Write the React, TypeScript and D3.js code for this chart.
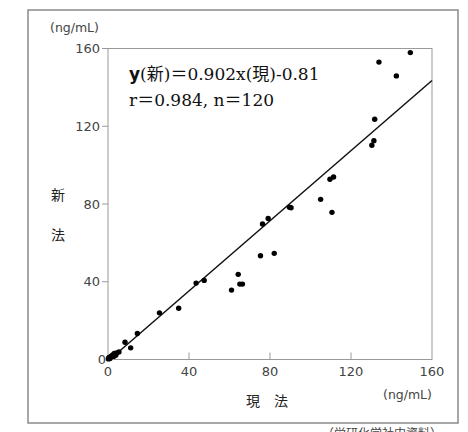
import { useEffect, useRef } from "react";
import * as d3 from "d3";

// 現法 (x) vs 新法 (y), ng/mL
const currentMethod = [
  149.3, 133.8, 142.4, 131.7, 131.3, 130.3, 109.6, 111.4, 105.0, 110.6,
  89.6, 90.4, 79.1, 76.3, 75.3, 82.1, 64.3, 65.1, 66.4, 61.0,
  47.5, 43.5, 34.9, 25.4, 14.5, 8.4, 11.2, 5.4, 4.3, 3.1,
  2.3, 1.5, 0.7, 0.2, 3.8, 2.8, 1.0, 0.4,
];
const newMethod = [
  157.9, 153.0, 145.9, 123.6, 112.6, 110.2, 92.7, 93.9, 82.4, 75.7,
  78.3, 78.1, 72.6, 69.7, 53.4, 54.6, 43.8, 38.8, 38.8, 35.7,
  40.7, 39.3, 26.4, 24.0, 13.4, 8.9, 6.0, 3.9, 3.4, 3.1,
  2.4, 1.7, 1.0, 0.3, 2.2, 1.6, 0.5, 0.9,
];
const ticks = [0, 40, 80, 120, 160];
const slope = 0.902;
const intercept = -0.81;

export default function App() {
  const ref = useRef<SVGSVGElement>(null);

  useEffect(() => {
    const svg = d3.select(ref.current);
    svg.selectAll("*").remove();

    const x = d3.scaleLinear().domain([0, 160]).range([108, 432]);
    const y = d3.scaleLinear().domain([0, 160]).range([359.5, 48.5]);
    const sans = "'DejaVu Sans', sans-serif";
    const cjk = "'Noto Sans CJK JP', sans-serif";
    const serif = "'DejaVu Serif', serif";

    // outer frame
    svg.append("rect")
      .attr("x", 28).attr("y", 10).attr("width", 430).attr("height", 413)
      .attr("fill", "none").attr("stroke", "#8a8a8a").attr("stroke-width", 1.5);

    // plot frame
    svg.append("rect")
      .attr("x", x(0)).attr("y", y(160))
      .attr("width", x(160) - x(0)).attr("height", y(0) - y(160))
      .attr("fill", "none").attr("stroke", "#999").attr("stroke-width", 1);

    // x ticks (inward)
    svg.selectAll(".xt").data(ticks.slice(1, 4)).enter().append("line")
      .attr("x1", d => x(d)).attr("x2", d => x(d))
      .attr("y1", y(0)).attr("y2", y(0) - 7)
      .attr("stroke", "#999");
    // y ticks (outward)
    svg.selectAll(".yt").data(ticks.slice(1)).enter().append("line")
      .attr("x1", x(0)).attr("x2", x(0) - 6)
      .attr("y1", d => y(d)).attr("y2", d => y(d))
      .attr("stroke", "#999");

    svg.selectAll(".xl").data(ticks).enter().append("text")
      .attr("x", d => x(d)).attr("y", y(0) + 16)
      .attr("text-anchor", "middle")
      .attr("font-family", sans).attr("font-size", 13).attr("fill", "#444")
      .text(d => d);
    svg.selectAll(".yl").data(ticks).enter().append("text")
      .attr("x", d => (d === 0 ? x(0) - 2 : x(0) - 8)).attr("y", d => y(d) + 4.5)
      .attr("text-anchor", "end")
      .attr("font-family", sans).attr("font-size", 13).attr("fill", "#444")
      .text(d => d);

    // units
    svg.append("text").attr("x", 50).attr("y", 32)
      .attr("font-family", sans).attr("font-size", 12.5).attr("fill", "#444")
      .text("(ng/mL)");
    svg.append("text").attr("x", 383).attr("y", 399)
      .attr("font-family", sans).attr("font-size", 12.5).attr("fill", "#444")
      .text("(ng/mL)");

    // axis titles
    svg.append("text").attr("x", 58).attr("y", 200)
      .attr("text-anchor", "middle")
      .attr("font-family", cjk).attr("font-size", 14).attr("fill", "#222")
      .text("新");
    svg.append("text").attr("x", 58).attr("y", 240)
      .attr("text-anchor", "middle")
      .attr("font-family", cjk).attr("font-size", 14).attr("fill", "#222")
      .text("法");
    svg.append("text").attr("x", 267).attr("y", 406)
      .attr("text-anchor", "middle")
      .attr("font-family", cjk).attr("font-size", 14).attr("fill", "#222")
      .text("現　法");

    // regression line
    const x0 = -intercept / slope;
    svg.append("line")
      .attr("x1", x(x0)).attr("y1", y(0))
      .attr("x2", x(160)).attr("y2", y(slope * 160 + intercept))
      .attr("stroke", "#111").attr("stroke-width", 1.5);

    // points
    svg.selectAll(".dot").data(currentMethod).enter().append("circle")
      .attr("cx", d => x(d))
      .attr("cy", (d, i) => y(newMethod[i]))
      .attr("r", 2.7)
      .attr("fill", "#000");

    // equation
    const eq = svg.append("text").attr("x", 129).attr("y", 80)
      .attr("font-family", serif).attr("font-size", 17).attr("fill", "#111");
    eq.append("tspan").attr("font-family", sans).attr("font-weight", "bold").text("y");
    eq.append("tspan").text("(");
    eq.append("tspan").attr("font-family", cjk).text("新");
    eq.append("tspan").text(")");
    eq.append("tspan").attr("font-family", cjk).text("＝");
    eq.append("tspan").text("0.902x(");
    eq.append("tspan").attr("font-family", cjk).text("現");
    eq.append("tspan").text(")-0.81");
    const eq2 = svg.append("text").attr("x", 129).attr("y", 106)
      .attr("font-family", serif).attr("font-size", 17).attr("fill", "#111");
    eq2.append("tspan").text("r");
    eq2.append("tspan").attr("font-family", cjk).text("＝");
    eq2.append("tspan").text("0.984, n");
    eq2.append("tspan").attr("font-family", cjk).text("＝");
    eq2.append("tspan").text("120");

    // cut-off source note
    svg.append("text").attr("x", 322).attr("y", 438)
      .attr("font-family", cjk).attr("font-size", 12).attr("fill", "#444")
      .text("（栄研化学社内資料）");
  }, []);

  return (
    <svg ref={ref} width={468} height={432}
      style={{ position: "absolute", left: 0, top: 0, background: "#fff" }} />
  );
}
